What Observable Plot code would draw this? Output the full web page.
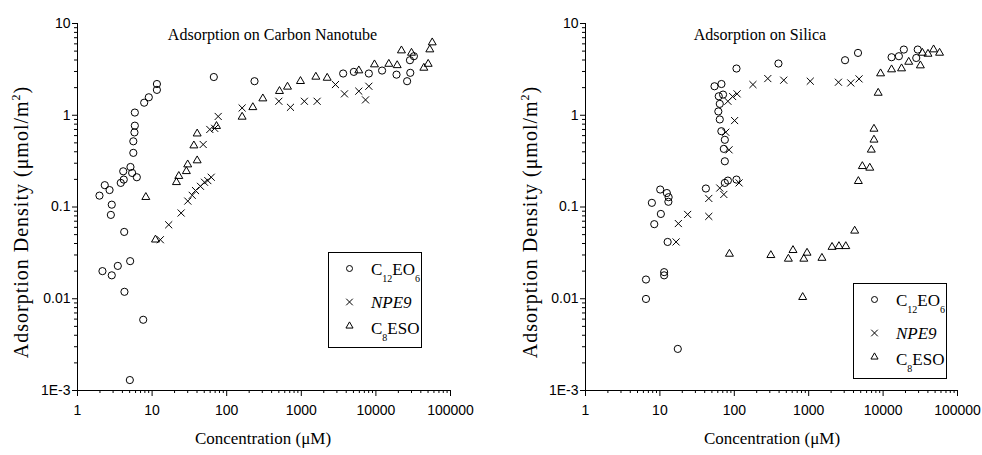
<!DOCTYPE html>
<html><head><meta charset="utf-8">
<script src="https://cdn.jsdelivr.net/npm/d3@7"></script>
<script src="https://cdn.jsdelivr.net/npm/@observablehq/plot@0.6"></script>
<style>
html,body{margin:0;padding:0;background:#fff;}
#wrap{position:relative;width:982px;height:455px;overflow:hidden;}
.panel{position:absolute;top:0;}
.panel text{font-family:"Liberation Sans",Arial,sans-serif !important;}
#overlay{position:absolute;left:0;top:0;pointer-events:none;}
#overlay text{font-family:"Liberation Serif","Times New Roman",serif;}
</style>
</head><body>
<div id="wrap"></div>
<script>
// ---------- data (x = concentration µM, y = adsorption density µmol/m²) ----------
const panelTitles = ["Adsorption on Carbon Nanotube", "Adsorption on Silica"];
const seriesNames = ["C12EO6", "NPE9", "C8ESO"];
const xTicks = [1, 10, 100, 1000, 10000, 100000];
const xTickLabels = ["1", "10", "100", "1000", "10000", "100000"];
const yTicks = [0.001, 0.01, 0.1, 1, 10];
const yTickLabels = ["1E-3", "0.01", "0.1", "1", "10"];

// Carbon nanotube panel
const cnt_C12EO6 = [
  [1.97,0.133],[2.32,0.173],[2.69,0.153],[2.88,0.106],[2.8,0.082],[3.8,0.183],[4.17,0.199],[4.1,0.245],
  [5.13,0.273],[5.4,0.235],[6.24,0.211],[5.6,0.389],[5.6,0.52],[5.8,0.65],[5.87,0.77],[5.87,1.07],
  [7.83,1.37],[9.03,1.57],[11.6,1.89],[11.6,2.19],[67.2,2.61],
  [2.16,0.020],[2.88,0.018],[3.47,0.0228],[4.23,0.0535],[5.08,0.0257],[4.26,0.0119],[7.6,0.0059],[5.03,0.0013],
  [236,2.35],[3640,2.85],[5060,2.97],[8040,2.85],[12100,3.07],[18900,2.77],[26200,2.35],[28900,2.9],[28600,3.98],[32300,4.4]
];
const cnt_NPE9 = [
  [12.9,0.044],[16.7,0.064],[24.5,0.086],[30.1,0.116],[34.5,0.134],[38.2,0.151],[44.5,0.168],[50.4,0.186],
  [55.8,0.194],[62,0.211],[48.4,0.48],[59.4,0.70],[69,0.72],[76.9,0.97],
  [161,1.2],[500,1.42],[716,1.22],[1100,1.42],[1630,1.42],[2870,2.16],[3790,1.71],[5900,1.83],[7260,1.47],[8040,2.07]
];
const cnt_C8ESO = [
  [8.24,0.128],[11.1,0.044],[21.2,0.186],[22.8,0.217],[28.8,0.245],[30,0.29],[40.2,0.321],[36.3,0.467],
  [40.2,0.63],[73,0.76],[161,0.96],[224,1.22],[305,1.52],[510,1.83],[653,2.04],[975,2.35],[1567,2.62],
  [2224,2.55],[5900,3.07],[9570,3.57],[14900,3.62],[19300,3.5],[22000,5.07],[30000,4.78],[43900,3.28],
  [50200,3.62],[52800,5.2],[56900,6.2]
];

// Silica panel
const sil_C12EO6 = [
  [7.8,0.111],[10.1,0.155],[12.4,0.142],[13.1,0.128],[13.0,0.114],[10.3,0.084],[8.4,0.065],[12.7,0.0416],
  [11.4,0.0195],[11.4,0.018],[6.5,0.0162],[6.5,0.00995],[17.4,0.00284],[41.5,0.159],
  [107,3.23],[54.2,2.07],[67.2,2.19],[61.8,1.61],[70.6,1.68],[63.8,1.33],[61,1.1],[63.8,0.9],[67,0.67],
  [74.6,0.54],[72.3,0.43],[74.6,0.315],[74.6,0.183],[82,0.194],[107,0.199],
  [392,3.66],[3080,3.98],[4600,4.78],[13000,4.29],[16300,4.4],[19000,5.2],[29200,5.2],[27900,4.21]
];
const sil_NPE9 = [
  [16.5,0.0416],[17.7,0.066],[23.6,0.083],[45.4,0.079],[45.4,0.124],[63.8,0.161],[72.3,0.137],[116,0.183],
  [85,0.42],[76.8,0.653],[101,0.875],[82,1.42],[95,1.6],[109,1.71],
  [178,2.16],[282,2.51],[462,2.41],[1050,2.35],[2510,2.29],[3680,2.25],[4750,2.49]
];
const sil_C8ESO = [
  [86,0.0308],[310,0.0298],[533,0.0272],[615,0.0338],[860,0.0272],[950,0.0316],[1506,0.0278],[2060,0.0366],
  [2550,0.0373],[3150,0.0373],[4150,0.0550],[830,0.0104],
  [4650,0.191],[5260,0.278],[6620,0.267],[6940,0.42],[7540,0.54],[7540,0.71],[8590,1.75],[9250,2.85],
  [13000,3.15],[17700,3.23],[22100,3.81],[31700,3.48],[33700,4.78],[40100,4.66],[47700,5.2],[57400,4.78]
];

// ---------- helpers ----------
const xLab = new Map(xTicks.map((t, i) => [t, xTickLabels[i]]));
const yLab = new Map(yTicks.map((t, i) => [t, yTickLabels[i]]));
const minorOf = (ticks) => ticks.slice(0, -1).flatMap(t => [2,3,4,5,6,7,8,9].map(k => +(t * k).toPrecision(3)));
const xMinor = minorOf(xTicks);
const yMinor = minorOf(yTicks);

const SYM = {
  C12EO6: {symbol: "circle", r: 3.6},
  NPE9: {symbol: "times", r: 3.3},
  C8ESO: {symbol: "triangle2", r: 3.8}
};

function panel(series, width, marginLeft, marginRight) {
  return Plot.plot({
    width, height: 455,
    marginLeft, marginRight, marginTop: 23, marginBottom: 65,
    x: {type: "log", domain: [1, 1e5], label: null},
    y: {type: "log", domain: [1e-3, 10], label: null},
    style: {fontFamily: "'Liberation Sans', Arial, sans-serif", fontSize: "14px", color: "#000", background: "transparent", overflow: "visible"},
    marks: [
      Plot.ruleX([1], {stroke: "#000", strokeWidth: 1}),
      Plot.ruleY([1e-3], {stroke: "#000", strokeWidth: 1}),
      Plot.axisX(xMinor, {tickSize: 3, tickFormat: () => "", label: null, stroke: "#000"}),
      Plot.axisX(xTicks, {tickSize: 6, tickPadding: 9, tickFormat: d => xLab.get(d), label: null, stroke: "#000"}),
      Plot.axisY(yMinor, {tickSize: 3, tickFormat: () => "", label: null, stroke: "#000"}),
      Plot.axisY(yTicks, {tickSize: 5, tickPadding: 2, tickFormat: d => yLab.get(d), label: null, stroke: "#000"}),
      ...seriesNames.map((name, i) => Plot.dot(series[i], {
        x: d => d[0], y: d => d[1],
        symbol: SYM[name].symbol, r: SYM[name].r,
        stroke: "#000", strokeWidth: 1, fill: "none"
      }))
    ]
  });
}

const wrap = document.getElementById("wrap");
const left = panel([cnt_C12EO6, cnt_NPE9, cnt_C8ESO], 491, 77, 41);
left.classList.add("panel"); left.style.left = "0px";
const right = panel([sil_C12EO6, sil_NPE9, sil_C8ESO], 491, 94, 25);
right.classList.add("panel"); right.style.left = "491px";
wrap.appendChild(left); wrap.appendChild(right);

// ---------- overlay text (titles, axis labels, legends) ----------
const svg = d3.create("svg").attr("id", "overlay").attr("width", 982).attr("height", 455).attr("fill", "#000");

const titlePos = [[272.5, 40], [760, 40]];
panelTitles.forEach((t, i) => svg.append("text").attr("x", titlePos[i][0]).attr("y", titlePos[i][1])
  .attr("text-anchor", "middle").attr("font-size", 16).text(t));

[263, 772].forEach(cx => svg.append("text").attr("x", cx).attr("y", 444)
  .attr("text-anchor", "middle").attr("font-size", 17).text("Concentration (\u03BCM)"));

[28, 537].forEach(bx => {
  const t = svg.append("text").attr("transform", `translate(${bx},222) rotate(-90)`)
    .attr("text-anchor", "middle").attr("font-size", 20).attr("letter-spacing", 1);
  t.append("tspan").text("Adsorption Density (\u03BCmol/m");
  t.append("tspan").attr("dy", -8).attr("font-size", 12).text("2");
  t.append("tspan").attr("dy", 8).text(")");
});

function legend(x0, y0) {
  const g = svg.append("g").attr("transform", `translate(${x0},${y0})`);
  g.append("rect").attr("x", 0.5).attr("y", 0.5).attr("width", 93).attr("height", 95)
    .attr("fill", "#fff").attr("stroke", "#000").attr("stroke-width", 1);
  const symY = [16.5, 50, 74], baseY = [22.5, 56, 82];
  g.append("circle").attr("cx", 21.5).attr("cy", symY[0]).attr("r", 3).attr("fill", "none").attr("stroke", "#000");
  g.append("path").attr("transform", `translate(21.5,${symY[1]})`).attr("d", d3.symbol(d3.symbolTimes, Math.PI * 3.1 * 3.1)())
    .attr("fill", "none").attr("stroke", "#000");
  g.append("path").attr("transform", `translate(21.5,${symY[2]})`).attr("d", d3.symbol(d3.symbolTriangle2, Math.PI * 3.4 * 3.4)())
    .attr("fill", "none").attr("stroke", "#000");
  const t1 = g.append("text").attr("x", 43).attr("y", baseY[0]).attr("font-size", 17);
  t1.append("tspan").text("C");
  t1.append("tspan").attr("dy", 7).attr("font-size", 10).text("12");
  t1.append("tspan").attr("dy", -7).text("EO");
  t1.append("tspan").attr("dy", 7).attr("font-size", 10).text("6");
  g.append("text").attr("x", 43).attr("y", baseY[1]).attr("font-size", 17).attr("font-style", "italic").text("NPE9");
  const t3 = g.append("text").attr("x", 43).attr("y", baseY[2]).attr("font-size", 17);
  t3.append("tspan").text("C");
  t3.append("tspan").attr("dy", 7).attr("font-size", 10).text("8");
  t3.append("tspan").attr("dy", -7).text("ESO");
}
legend(328, 252);
legend(853, 283);

wrap.appendChild(svg.node());
</script>
</body></html>
